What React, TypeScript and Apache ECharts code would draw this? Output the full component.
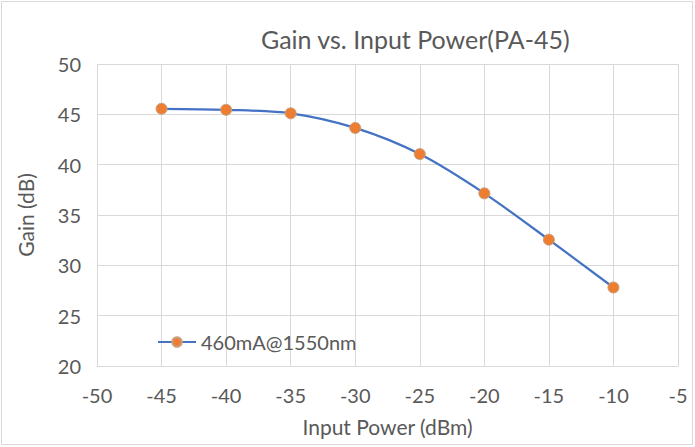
import React, { useEffect, useRef } from "react";
import * as echarts from "echarts";

const inputPower = [-45, -40, -35, -30, -25, -20, -15, -10];
const gain = [45.55, 45.45, 45.1, 43.65, 41.05, 37.15, 32.55, 27.8];
const seriesName = "460mA@1550nm";
const titleText = "Gain vs. Input Power(PA-45)";
const xName = "Input Power (dBm)";
const yName = "Gain (dB)";

const FONT = "Lato, 'Noto Sans', sans-serif";
const TXT = "#595959";
const GRID = "#d9d9d9";

export default function App() {
  const ref = useRef<HTMLDivElement>(null);
  useEffect(() => {
    if (!ref.current) return;
    const chart = echarts.init(ref.current, undefined, { renderer: "svg" });
    chart.setOption({
      animation: false,
      backgroundColor: "#ffffff",
      textStyle: { fontFamily: FONT },
      title: {
        text: titleText,
        left: 256,
        top: 21,
        textStyle: { fontFamily: FONT, fontSize: 25, fontWeight: "normal", color: TXT },
      },
      graphic: [
        {
          type: "rect",
          shape: { x: 1.5, y: 1.5, width: 691, height: 443 },
          style: { fill: "none", stroke: GRID, lineWidth: 1 },
          silent: true,
        },
      ],
      legend: {
        left: 152,
        top: 327,
        itemWidth: 38,
        itemHeight: 12,
        itemGap: 6,
        textStyle: { fontFamily: FONT, fontSize: 20, color: TXT },
        data: [seriesName],
      },
      grid: { left: 97, right: 17, top: 64, bottom: 81 },
      xAxis: {
        type: "value",
        min: -50,
        max: -5,
        interval: 5,
        name: xName,
        nameLocation: "middle",
        nameGap: 50,
        nameTextStyle: { fontFamily: FONT, fontSize: 21, color: TXT },
        axisLine: { show: true, lineStyle: { color: GRID } },
        axisTick: { show: false },
        axisLabel: { fontFamily: FONT, fontSize: 20, color: TXT, margin: 19 },
        splitLine: { show: true, lineStyle: { color: GRID } },
      },
      yAxis: {
        type: "value",
        min: 20,
        max: 50,
        interval: 5,
        name: yName,
        nameLocation: "middle",
        nameGap: 61,
        nameTextStyle: { fontFamily: FONT, fontSize: 21, color: TXT },
        axisLine: { show: false },
        axisTick: { show: false },
        axisLabel: { fontFamily: FONT, fontSize: 20, color: TXT, margin: 16 },
        splitLine: { show: true, lineStyle: { color: GRID } },
      },
      series: [
        {
          name: seriesName,
          type: "line",
          smooth: 0.3,
          data: inputPower.map((x, i) => [x, gain[i]]),
          lineStyle: { color: "#4472C4", width: 2.25 },
          itemStyle: { color: "#ED7D31", borderColor: "#c9a07f", borderWidth: 1 },
          symbol: "circle",
          symbolSize: 11,
        },
      ],
    });
    return () => chart.dispose();
  }, []);
  return (
    <div
      ref={ref}
      style={{ position: "fixed", left: 0, top: 0, width: 695, height: 447 }}
    />
  );
}
